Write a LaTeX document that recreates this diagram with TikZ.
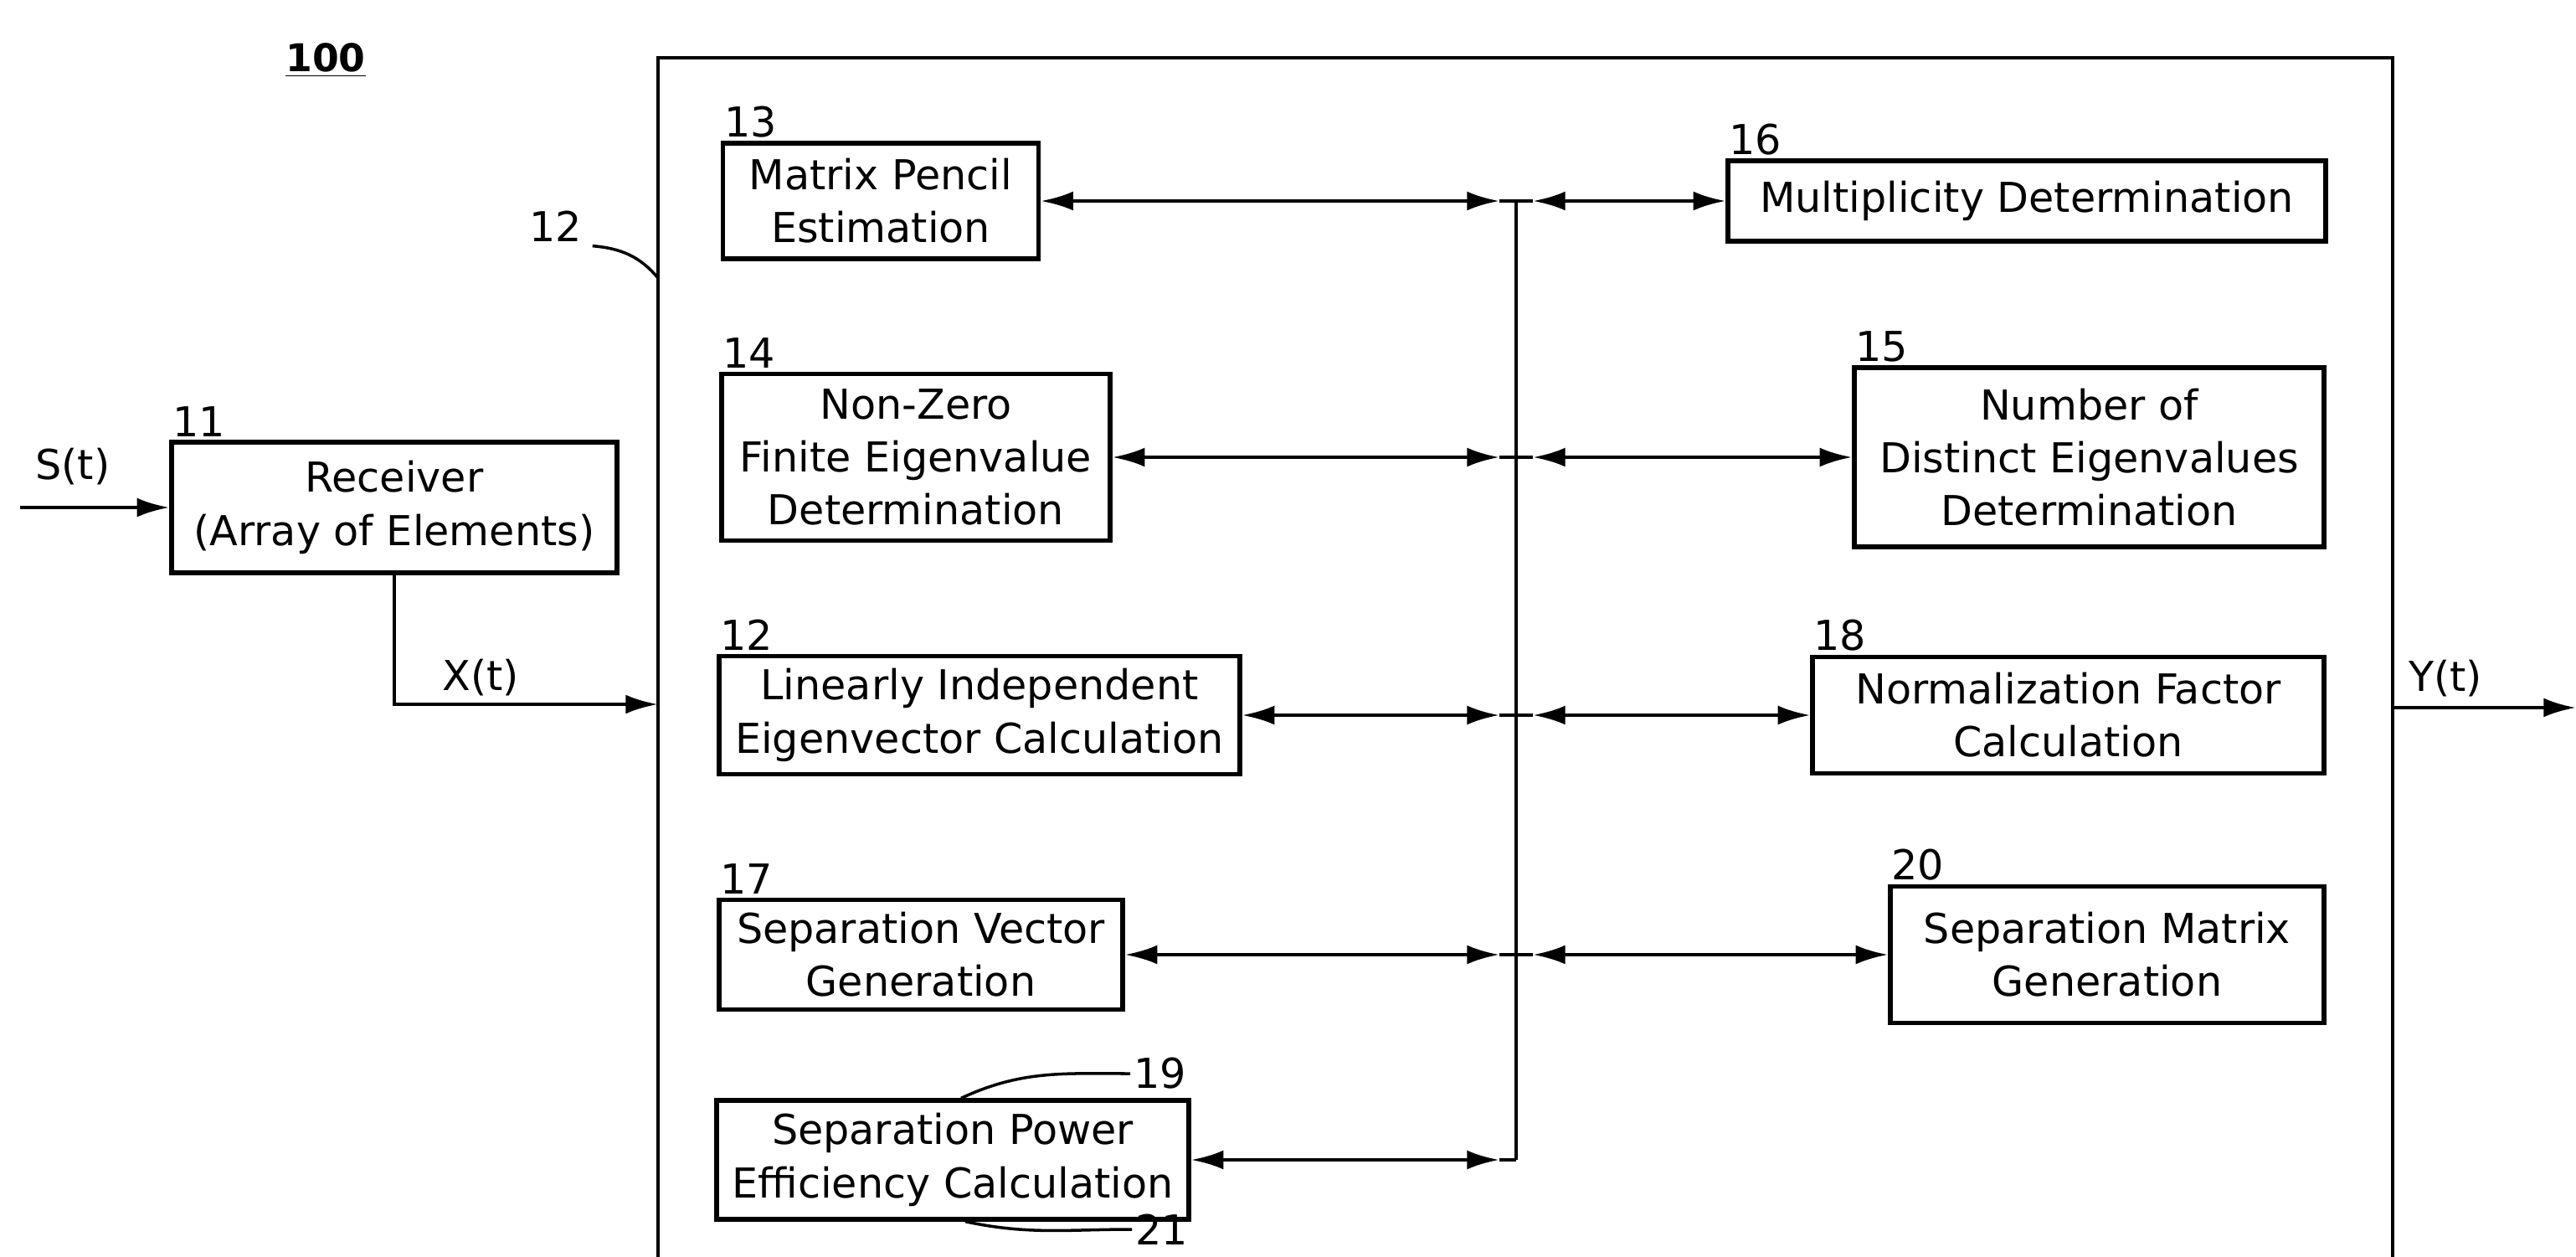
\documentclass[tikz,border=0pt]{standalone}
\usepackage{fontspec}
\setmainfont{DejaVu Sans}
\usetikzlibrary{arrows.meta, calc}

\begin{document}
\begin{tikzpicture}[
    >={Latex[length=11pt,width=6.5pt]},
    block/.style={rectangle, draw=black, line width=1.5pt, align=center,
                  font=\fontsize{14}{18}\selectfont, inner sep=2pt},
    refnum/.style={font=\fontsize{14}{16}\selectfont, inner sep=1pt, anchor=south west},
    signal/.style={font=\fontsize{14}{16}\selectfont, inner sep=2pt},
    link/.style={line width=1.3pt},
    leader/.style={line width=1pt}
]
\useasboundingbox (0,0) rectangle (30.77,-15.01);

% outer unit, open at the bottom
\coordinate (ftl) at (7.86,-0.69);
\coordinate (ftr) at (28.58,-0.69);
\draw[line width=1.3pt] (7.86,-15.3) -- (ftl) -- (ftr) -- (28.58,-15.3);

\node[font=\bfseries\fontsize{13}{15}\selectfont] (fig) at (3.89,-0.72) {\underline{100}};

% receiver
\node[block, minimum width=5.32cm, minimum height=1.56cm] (recv) at (4.71,-6.06)
    {Receiver\\(Array of Elements)};
\node[refnum] (n11) at (recv.north west) {11};
\coordinate (sin) at (0.24,-6.06);
\draw[link,->] (sin) -- (recv.west);
\node[signal] (st) at (0.87,-5.57) {S(t)};
\coordinate (xin) at (7.86,-8.41);
\draw[link,->] (recv.south) |- (xin);
\node[signal] (xt) at (5.74,-8.09) {X(t)};

% output
\coordinate (yout) at (28.58,-8.45);
\coordinate (yend) at (30.77,-8.45);
\draw[link,->] (yout) -- (yend);
\node[signal] (yt) at (29.21,-8.10) {Y(t)};

% frame label
\node[font=\fontsize{14}{16}\selectfont] (n12f) at (6.64,-2.70) {12};
\coordinate (f12) at (7.86,-3.32);
\draw[leader] ([yshift=2pt]n12f.south east) to[out=-5,in=130] (f12);

% left column
\node[block, minimum width=3.77cm, minimum height=1.38cm] (mpe) at (10.52,-2.40)
    {Matrix Pencil\\Estimation};
\node[block, minimum width=4.64cm, minimum height=1.99cm] (nzf) at (10.94,-5.46)
    {Non-Zero\\Finite Eigenvalue\\Determination};
\node[block, minimum width=6.22cm, minimum height=1.41cm] (lie) at (11.70,-8.54)
    {Linearly Independent\\Eigenvector Calculation};
\node[block, minimum width=4.82cm, minimum height=1.31cm] (svg) at (11.00,-11.40)
    {Separation Vector\\Generation};
\node[block, minimum width=5.64cm, minimum height=1.42cm] (spe) at (11.38,-13.85)
    {Separation Power\\Efficiency Calculation};

% right column
\node[block, minimum width=7.14cm, minimum height=0.96cm] (mul) at (24.21,-2.40)
    {Multiplicity Determination};
\node[block, minimum width=5.61cm, minimum height=2.14cm] (nde) at (24.955,-5.46)
    {Number of\\Distinct Eigenvalues\\Determination};
\node[block, minimum width=6.11cm, minimum height=1.39cm] (nfc) at (24.705,-8.54)
    {Normalization Factor\\Calculation};
\node[block, minimum width=5.18cm, minimum height=1.63cm] (smg) at (25.17,-11.40)
    {Separation Matrix\\Generation};

% reference numerals
\node[refnum] (n13) at (mpe.north west) {13};
\node[refnum] (n14) at (nzf.north west) {14};
\node[refnum] (n12) at (lie.north west) {12};
\node[refnum] (n17) at (svg.north west) {17};
\node[refnum] (n16) at (mul.north west) {16};
\node[refnum] (n15) at (nde.north west) {15};
\node[refnum] (n18) at (nfc.north west) {18};
\node[refnum] (n20) at (smg.north west) {20};
\node[font=\fontsize{14}{16}\selectfont, anchor=west, inner sep=1pt] (n19) at (13.50,-12.82) {19};
\node[font=\fontsize{14}{16}\selectfont, anchor=west, inner sep=1pt] (n21) at (13.52,-14.68) {21};
\draw[leader] ([xshift=1mm]spe.north) to[out=25,in=180] (n19.west);
\draw[leader] ([xshift=1.5mm]spe.south) to[out=-12,in=180] (n21.west);

% bus
\foreach \r/\y in {1/-2.40, 2/-5.46, 3/-8.54, 4/-11.40, 5/-13.85} {
    \coordinate (b\r) at (18.11,\y);
    \coordinate (b\r l) at (17.91,\y);
    \coordinate (b\r r) at (18.31,\y);
}
\draw[line width=1.1pt] (b1) -- (b5);
\foreach \l/\r/\n in {mpe/mul/1, nzf/nde/2, lie/nfc/3, svg/smg/4} {
    \draw[link,<->] (\l.east) -- (b\n l);
    \draw[link] (b\n l) -- (b\n r);
    \draw[link,<->] (b\n r) -- (\r.west);
}
\draw[link,<->] (spe.east) -- (b5l);
\draw[link] (b5l) -- (b5);
\end{tikzpicture}
\end{document}
